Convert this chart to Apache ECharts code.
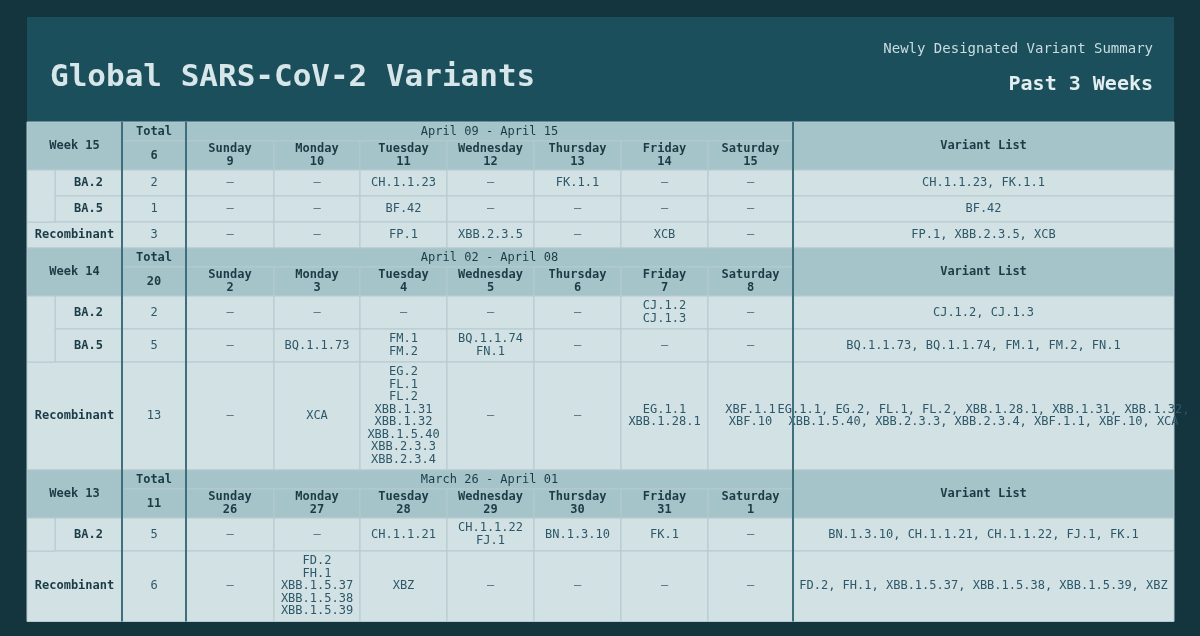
<!DOCTYPE html>
<html><head><meta charset="utf-8">
<script src="https://cdn.jsdelivr.net/npm/echarts@6/dist/echarts.min.js"></script>
<style>html,body{margin:0;background:#14343e}#c{width:1200px;height:636px}</style>
</head><body><div id="c"></div>
<script>
var dayNames = ['Sunday', 'Monday', 'Tuesday', 'Wednesday', 'Thursday', 'Friday', 'Saturday'];

var weekLabels = ['Week 15', 'Week 14', 'Week 13'];
var weekTotals = [6, 20, 11];
var weekRanges = ['April 09 - April 15', 'April 02 - April 08', 'March 26 - April 01'];
var weekDays = [[9, 10, 11, 12, 13, 14, 15], [2, 3, 4, 5, 6, 7, 8], [26, 27, 28, 29, 30, 31, 1]];

var w15Lineages = ['BA.2', 'BA.5', 'Recombinant'];
var w15Counts = [2, 1, 3];
var w15Cells = [
    ['-', '-', 'CH.1.1.23', '-', 'FK.1.1', '-', '-'],
    ['-', '-', 'BF.42', '-', '-', '-', '-'],
    ['-', '-', 'FP.1', 'XBB.2.3.5', '-', 'XCB', '-']
];
var w15Lists = ['CH.1.1.23, FK.1.1', 'BF.42', 'FP.1, XBB.2.3.5, XCB'];

var w14Lineages = ['BA.2', 'BA.5', 'Recombinant'];
var w14Counts = [2, 5, 13];
var w14Cells = [
    ['-', '-', '-', '-', '-', 'CJ.1.2\nCJ.1.3', '-'],
    ['-', 'BQ.1.1.73', 'FM.1\nFM.2', 'BQ.1.1.74\nFN.1', '-', '-', '-'],
    ['-', 'XCA', 'EG.2\nFL.1\nFL.2\nXBB.1.31\nXBB.1.32\nXBB.1.5.40\nXBB.2.3.3\nXBB.2.3.4', '-', '-', 'EG.1.1\nXBB.1.28.1', 'XBF.1.1\nXBF.10']
];
var w14Lists = ['CJ.1.2, CJ.1.3', 'BQ.1.1.73, BQ.1.1.74, FM.1, FM.2, FN.1',
    'EG.1.1, EG.2, FL.1, FL.2, XBB.1.28.1, XBB.1.31, XBB.1.32,\nXBB.1.5.40, XBB.2.3.3, XBB.2.3.4, XBF.1.1, XBF.10, XCA'];

var w13Lineages = ['BA.2', 'Recombinant'];
var w13Counts = [5, 6];
var w13Cells = [
    ['-', '-', 'CH.1.1.21', 'CH.1.1.22\nFJ.1', 'BN.1.3.10', 'FK.1', '-'],
    ['-', 'FD.2\nFH.1\nXBB.1.5.37\nXBB.1.5.38\nXBB.1.5.39', 'XBZ', '-', '-', '-', '-']
];
var w13Lists = ['BN.1.3.10, CH.1.1.21, CH.1.1.22, FJ.1, FK.1', 'FD.2, FH.1, XBB.1.5.37, XBB.1.5.38, XBB.1.5.39, XBZ'];

var lineagesByWeek = [w15Lineages, w14Lineages, w13Lineages];
var countsByWeek = [w15Counts, w14Counts, w13Counts];
var cellsByWeek = [w15Cells, w14Cells, w13Cells];
var listsByWeek = [w15Lists, w14Lists, w13Lists];

// layout
var FONT = '"DejaVu Sans Mono", monospace';
var colX = [27, 55, 122, 186, 274, 360, 447, 534, 621, 708, 793, 1174];
var HEAD = '#a5c4c9', BODY = '#d2e1e4', LINE = '#b4cacf', DARK = '#1b3c46', VAR = '#2d5869';
var LH = 12.5;

var cells = [];   // [x0, y0, x1, y1, fill, text, bold, color]
function cell(x0, y0, x1, y1, fill, text, bold, color) {
    cells.push([x0, y0, x1, y1, fill, String(text), bold ? 1 : 0, color || DARK]);
}
function nLines(s) { return String(s).split('\n').length; }

var y = 122;
for (var w = 0; w < 3; w++) {
    // header block
    cell(colX[0], y, colX[2], y + 48, HEAD, weekLabels[w], true);
    cell(colX[2], y, colX[3], y + 19, HEAD, 'Total', true);
    cell(colX[2], y + 19, colX[3], y + 48, HEAD, weekTotals[w], true);
    cell(colX[3], y, colX[10], y + 19, HEAD, weekRanges[w], false);
    for (var d = 0; d < 7; d++)
        cell(colX[3 + d], y + 19, colX[4 + d], y + 48, HEAD, dayNames[d] + '\n' + weekDays[w][d], true);
    cell(colX[10], y, colX[11], y + 48, HEAD, 'Variant List', true);
    y += 48;
    var lin = lineagesByWeek[w], rows = cellsByWeek[w];
    var baStart = y, baEnd = y;
    for (var r = 0; r < lin.length; r++) {
        var n = 1;
        rows[r].forEach(function (s) { n = Math.max(n, nLines(s)); });
        n = Math.max(n, nLines(listsByWeek[w][r]));
        var h = Math.max(26, n * LH + 8);
        if (lin[r] === 'Recombinant') cell(colX[0], y, colX[2], y + h, BODY, lin[r], true);
        else { cell(colX[1], y, colX[2], y + h, BODY, lin[r], true); baEnd = y + h; }
        cell(colX[2], y, colX[3], y + h, BODY, countsByWeek[w][r], false, VAR);
        for (var d2 = 0; d2 < 7; d2++)
            cell(colX[3 + d2], y, colX[4 + d2], y + h, BODY, rows[r][d2], false, rows[r][d2] === '-' ? '#4e6e78' : VAR);
        cell(colX[10], y, colX[11], y + h, BODY, listsByWeek[w][r], false, VAR);
        y += h;
    }
    if (baEnd > baStart) cell(colX[0], baStart, colX[1], baEnd, BODY, '', false);
}
var tableBottom = y;
var thick = [[colX[2], 122, colX[2], tableBottom], [colX[3], 122, colX[3], tableBottom], [colX[10], 122, colX[10], tableBottom]];

var chart = echarts.init(document.getElementById('c'));
chart.setOption({
    backgroundColor: '#14343e',
    animation: false,
    graphic: [
        {type: 'rect', shape: {x: 27, y: 17, width: 1147, height: 105}, style: {fill: '#1c4f5c'}},
        {type: 'rect', shape: {x: 27, y: 122, width: 1147, height: tableBottom - 122}, style: {fill: BODY}, z: -1},
        {type: 'text', left: 50, top: 62, style: {text: 'Global SARS-CoV-2 Variants', font: 'bold 31px ' + FONT, fill: '#d6e6e9'}},
        {type: 'text', right: 47, top: 42, style: {text: 'Newly Designated Variant Summary', font: '14px ' + FONT, fill: '#c9dde1'}},
        {type: 'text', right: 47, top: 75, style: {text: 'Past 3 Weeks', font: 'bold 20px ' + FONT, fill: '#e3eef0'}}
    ],
    grid: {left: 0, right: 0, top: 0, bottom: 0},
    xAxis: {type: 'value', min: 0, max: 1200, show: false},
    yAxis: {type: 'value', min: 0, max: 636, inverse: true, show: false},
    series: [{
        type: 'custom',
        data: cells,
        renderItem: function (params, api) {
            var p0 = api.coord([api.value(0), api.value(1)]);
            var p1 = api.coord([api.value(2), api.value(3)]);
            var c = cells[params.dataIndex];
            return {
                type: 'group',
                children: [
                    {type: 'rect', shape: {x: p0[0], y: p0[1], width: p1[0] - p0[0], height: p1[1] - p0[1]},
                        style: {fill: c[4], stroke: LINE, lineWidth: 1}},
                    {type: 'text', x: (p0[0] + p1[0]) / 2, y: (p0[1] + p1[1]) / 2,
                        style: {text: c[5] === '-' ? '–' : c[5], align: 'center', verticalAlign: 'middle',
                            font: (c[6] ? 'bold ' : '') + '12px ' + FONT, lineHeight: LH, fill: c[7]}}
                ]
            };
        }
    }, {
        type: 'custom',
        data: thick,
        z: 5,
        renderItem: function (params, api) {
            var a = api.coord([api.value(0), api.value(1)]);
            var b = api.coord([api.value(2), api.value(3)]);
            return {type: 'line', shape: {x1: a[0], y1: a[1], x2: b[0], y2: b[1]},
                style: {stroke: '#3f6f7e', lineWidth: 2}};
        }
    }]
});
</script></body></html>
